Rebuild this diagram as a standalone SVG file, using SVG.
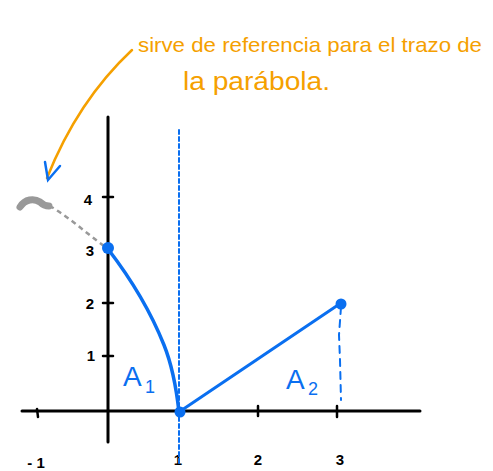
<svg xmlns="http://www.w3.org/2000/svg" width="493" height="471" viewBox="0 0 493 471">
<style>
.ax{stroke:#000;stroke-width:3;stroke-linecap:round;fill:none}
.tk{stroke:#000;stroke-width:2.5;stroke-linecap:round}
.num{font-family:"Liberation Sans",sans-serif;font-size:15px;font-weight:bold;fill:#000;text-anchor:middle}
.blue{stroke:#0a6ff0;fill:none;stroke-linecap:round}
.note{font-family:"Liberation Sans",sans-serif;fill:#f5a000}
.lbl{font-family:"Liberation Sans",sans-serif;fill:#0a6ff0}
</style>
<rect width="493" height="471" fill="#fff"/>
<g id="axes">
<line class="ax" x1="108" y1="117" x2="108" y2="442"/>
<line class="ax" x1="22" y1="411" x2="420" y2="411"/>
<line class="tk" x1="37" y1="409" x2="38" y2="417"/>
<line class="tk" x1="258" y1="406" x2="258" y2="416"/>
<line class="tk" x1="337" y1="406" x2="337" y2="417"/>
<line class="tk" x1="103" y1="197" x2="113" y2="197"/>
<line class="tk" x1="103" y1="303" x2="113" y2="303"/>
<line class="tk" x1="103" y1="356" x2="113" y2="356"/>
<text class="num" x="36" y="468">- 1</text>
<text class="num" x="178" y="465">1</text>
<text class="num" x="258" y="465">2</text>
<text class="num" x="340" y="465">3</text>
<text class="num" x="88" y="205">4</text>
<text class="num" x="90" y="256">3</text>
<text class="num" x="90" y="309">2</text>
<text class="num" x="91" y="361">1</text>
</g>
<g id="connectors">
<path d="M104,246 C85,232 70,218 50,206" stroke="#999" stroke-width="2.5" stroke-dasharray="5,4" fill="none"/>
<path d="M20,207 C25,199 34,198 40,202 C43,205 46,206 49,206" stroke="#999" stroke-width="7" fill="none" stroke-linecap="round"/>
<line class="blue" x1="179" y1="130" x2="179" y2="466" stroke-width="2" stroke-dasharray="4,3"/>
<path class="blue" d="M341,307 L339,335 L340,360 L341,400" stroke-width="2" stroke-dasharray="7,6"/>
<path class="blue" d="M108,249 C128,275 150,310 164,345 C172,365 176,385 179,412" stroke-width="3.5"/>
<line class="blue" x1="179" y1="412" x2="341" y2="303" stroke-width="3"/>
<path d="M132,50 C100,80 70,120 47,178" stroke="#f5a000" stroke-width="2.5" fill="none" stroke-linecap="round"/>
<path class="blue" d="M45,162 L48,180 L60,166" stroke-width="2.5"/>
</g>
<g id="points" fill="#0a6ff0">
<circle cx="108" cy="248" r="6"/>
<circle cx="180" cy="412" r="5.5"/>
<circle cx="341" cy="304" r="5.5"/>
</g>
<g id="labels">
<text class="lbl" x="123" y="386" font-size="28">A</text>
<text class="lbl" x="145" y="393" font-size="18">1</text>
<text class="lbl" x="286" y="389" font-size="28">A</text>
<text class="lbl" x="308" y="395" font-size="18">2</text>
</g>
<g id="note">
<text class="note" x="138" y="52" font-size="21" textLength="344" lengthAdjust="spacingAndGlyphs">sirve de referencia para el trazo de</text>
<text class="note" x="183" y="90" font-size="26" textLength="147" lengthAdjust="spacingAndGlyphs">la parábola.</text>
</g>
</svg>
